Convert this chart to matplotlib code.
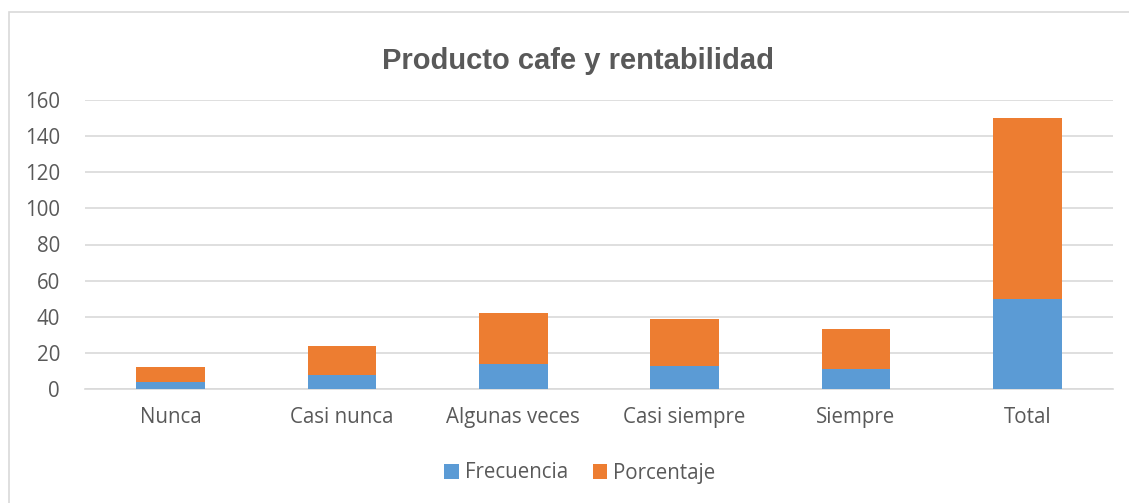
import numpy as np
import matplotlib.pyplot as plt
from matplotlib.patches import Rectangle

categorias = ["Nunca", "Casi nunca", "Algunas veces", "Casi siempre", "Siempre", "Total"]
frecuencia = [4, 8, 14, 13, 11, 50]
porcentaje = [8, 16, 28, 26, 22, 100]

azul = "#5b9bd5"
naranja = "#ed7d31"
gris = "#595959"

fig = plt.figure(figsize=(11.29, 5.03), dpi=100)
ax = fig.add_axes([85 / 1129, 1 - 389 / 503, 1028 / 1129, 289 / 503])

# marco del grafico
fig.patches.append(Rectangle((9 / 1129, -0.1), 1.2, 1 - 12 / 503 + 0.1,
                             transform=fig.transFigure, fill=False,
                             edgecolor="#d9d9d9", linewidth=1.2))

x = np.arange(len(categorias))
ax.bar(x, frecuencia, width=0.4, color=azul, label="Frecuencia", zorder=3)
ax.bar(x, porcentaje, width=0.4, bottom=frecuencia, color=naranja,
       label="Porcentaje", zorder=3)

ax.set_xlim(-0.5, len(categorias) - 0.5)
ax.set_ylim(0, 160)
ax.set_yticks(range(0, 161, 20))
ax.set_xticks(x)
ax.set_xticklabels(categorias)
ax.grid(axis="y", color="#d9d9d9", linewidth=1.2, zorder=0)
for s in ["top", "right", "left"]:
    ax.spines[s].set_visible(False)
ax.spines["bottom"].set_color("#d9d9d9")
ax.spines["bottom"].set_linewidth(1.2)
ax.tick_params(axis="both", length=0, labelsize=14.8, colors=gris,
               labelfontfamily="Open Sans")
ax.tick_params(axis="x", pad=13)
ax.tick_params(axis="y", pad=18)

fig.text(578 / 1129, 1 - 61 / 503, "Producto cafe y rentabilidad",
         ha="center", va="center", fontsize=21, fontweight="bold",
         color=gris, family="Liberation Sans")

fig.legend(loc="center", bbox_to_anchor=(580 / 1129, 1 - 473 / 503), ncol=2,
           frameon=False, prop={"family": "Open Sans", "size": 14.8},
           labelcolor=gris, handlelength=0.7, handleheight=0.7,
           handletextpad=0.3, columnspacing=1.2)

fig.savefig("out.png", dpi=100)
